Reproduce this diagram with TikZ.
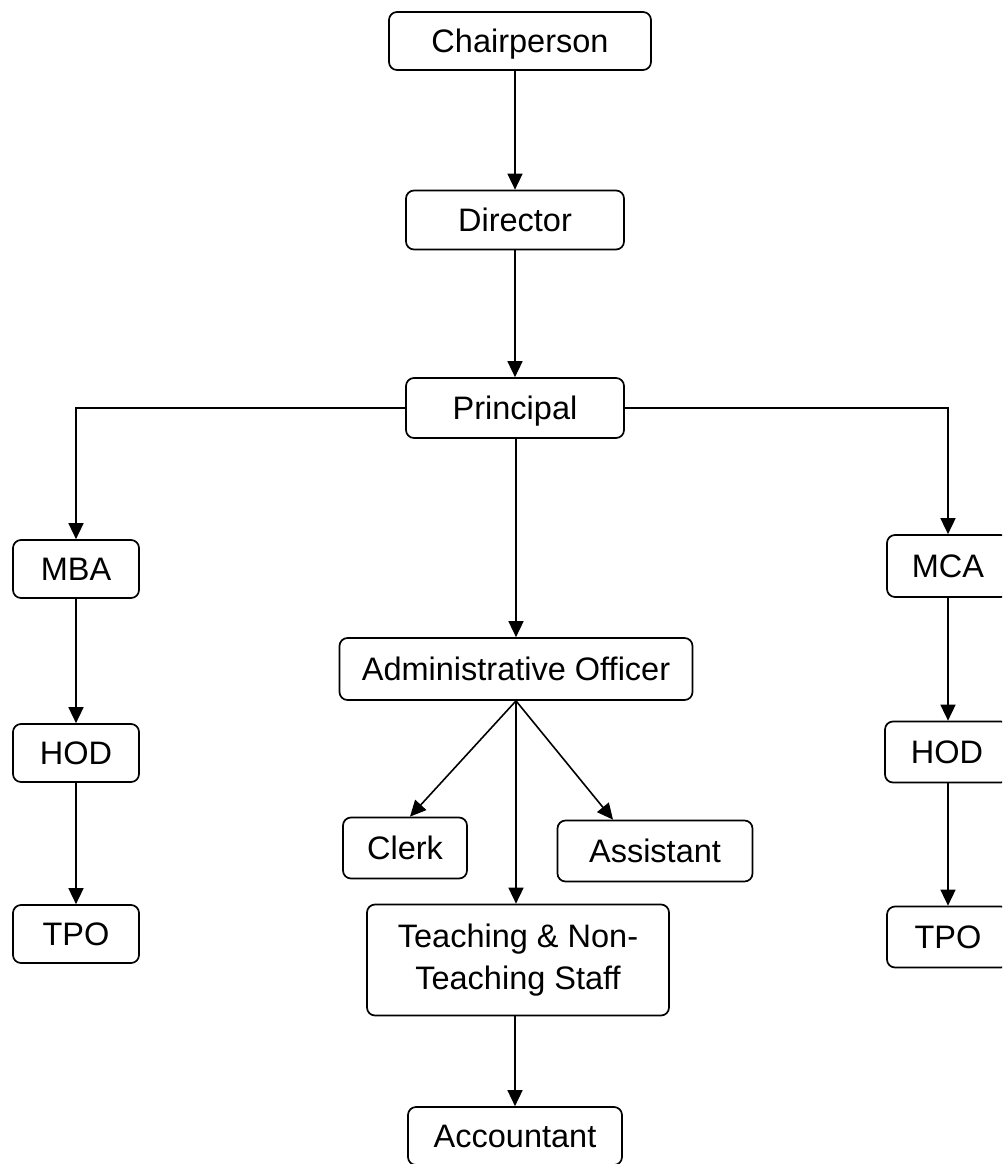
\documentclass[tikz,border=0pt]{standalone}
\usepackage{fontspec}
\setmainfont{Liberation Sans}
\usetikzlibrary{arrows.meta}
\begin{document}
\begin{tikzpicture}[x=1pt,y=-1pt,
  box/.style={draw, line width=1.7pt, rounded corners=8pt, inner sep=0pt,
    font=\fontsize{32.5}{42}\selectfont, align=center},
  one/.style={box, text height=23.4pt, text depth=0pt},
  arr/.style={line width=1.6pt, -{Triangle[length=16pt,width=15pt]}}]
\useasboundingbox (0,0) rectangle (1002,1164);
\clip (0,0) rectangle (1002,1164);
\node[one, minimum width=262pt, minimum height=58pt] (chair) at (520,41) {Chairperson};
\node[one, minimum width=218pt, minimum height=59pt] (dir) at (515,220) {Director};
\node[one, minimum width=218pt, minimum height=60pt] (prin) at (515,408) {Principal};
\node[one, minimum width=126pt, minimum height=58pt] (mba) at (76,569) {MBA};
\node[one, minimum width=126pt, minimum height=58pt] (hodl) at (76,753) {HOD};
\node[one, minimum width=126pt, minimum height=58pt] (tpol) at (76,934) {TPO};
\node[one, minimum width=122pt, minimum height=62pt] (mca) at (948,566) {MCA};
\node[one, minimum width=124pt, minimum height=61pt] (hodr) at (947,752) {HOD};
\node[one, minimum width=122pt, minimum height=61pt] (tpor) at (948,937) {TPO};
\node[one, minimum width=353pt, minimum height=62pt] (admin) at (516,669) {Administrative Officer};
\node[one, minimum width=124pt, minimum height=61pt] (clerk) at (405,848) {Clerk};
\node[one, minimum width=195pt, minimum height=61pt] (asst) at (655,851) {Assistant};
\node[box, minimum width=302pt, minimum height=111pt] (teach) at (518,960) {Teaching \& Non-\\Teaching Staff};
\node[one, minimum width=214pt, minimum height=58pt] (acct) at (515,1136) {Accountant};

\draw[arr] (dir.north |- chair.south) -- (dir.north);
\draw[arr] (dir.south) -- (prin.north);
\draw[arr] (prin.west) -| (mba.north);
\draw[arr] (prin.east) -| (mca.north);
\draw[arr] (prin.south) -- (admin.north |- prin.south) -- (admin.north);
\draw[arr] (admin.south) -- ([xshift=5pt]clerk.north);
\draw[arr] (admin.south) -- ([xshift=-42pt]asst.north);
\draw[arr] (admin.south) -- (admin.south |- teach.north);
\draw[arr] (acct.north |- teach.south) -- (acct.north);
\draw[arr] (mba.south) -- (hodl.north);
\draw[arr] (hodl.south) -- (tpol.north);
\draw[arr] (mca.south) -- (hodr.north -| mca.south);
\draw[arr] (hodr.south -| tpor.north) -- (tpor.north);
\end{tikzpicture}
\end{document}
